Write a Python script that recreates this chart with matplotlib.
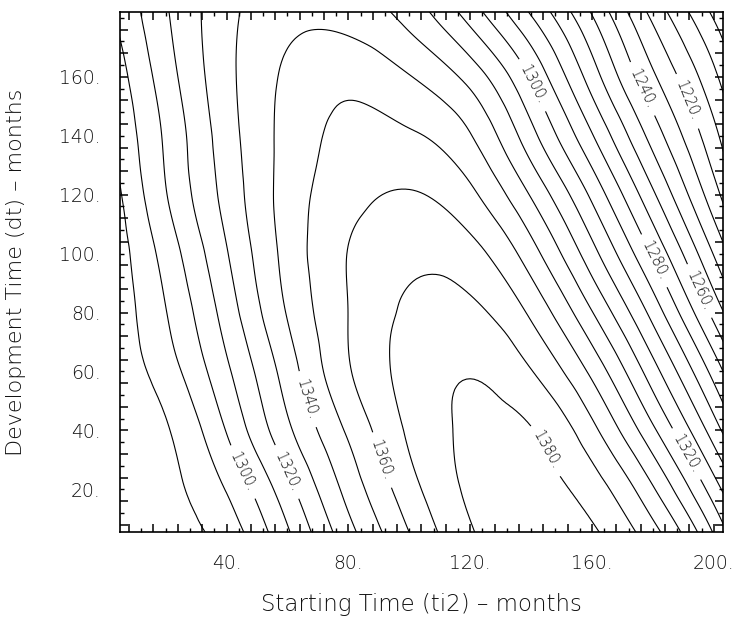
import numpy as np
import matplotlib
matplotlib.use("Agg")
import matplotlib.pyplot as plt
import matplotlib.tri as mtri
from matplotlib.ticker import MultipleLocator

# estimated surface values (rows = dt, cols = ti2)
ti2 = [0, 20, 40, 60, 80, 100, 120, 140, 160, 180, 200, 220]
dt = [0, 20, 40, 60, 80, 100, 120, 140, 160, 180, 200]
z_rows = [
    [1273.0, 1275.5, 1282.1, 1305.9, 1333.9, 1357.4, 1377.6, 1385.8, 1383.2, 1367.6, 1334.3, 1283.0],
    [1273.5, 1277.3, 1290.6, 1316.5, 1343.4, 1366.0, 1381.6, 1383.8, 1375.3, 1351.2, 1314.9, 1274.0],
    [1273.5, 1279.0, 1300.5, 1327.9, 1351.6, 1371.6, 1381.8, 1380.5, 1362.9, 1332.0, 1295.0, 1252.0],
    [1272.0, 1284.9, 1308.1, 1334.7, 1359.0, 1373.5, 1379.5, 1370.5, 1347.6, 1314.2, 1276.4, 1232.0],
    [1271.0, 1289.6, 1314.3, 1340.7, 1360.1, 1371.8, 1372.5, 1358.2, 1330.5, 1296.4, 1256.8, 1215.0],
    [1271.0, 1293.8, 1319.3, 1343.5, 1360.3, 1367.3, 1363.7, 1344.3, 1313.7, 1278.8, 1239.4, 1198.0],
    [1272.0, 1299.4, 1323.4, 1344.2, 1356.6, 1360.7, 1352.3, 1329.1, 1297.8, 1261.7, 1224.0, 1185.0],
    [1277.5, 1301.6, 1325.4, 1343.3, 1352.6, 1351.3, 1340.6, 1313.4, 1280.8, 1245.9, 1212.9, 1175.0],
    [1280.5, 1305.2, 1327.1, 1341.8, 1347.0, 1340.5, 1326.4, 1299.0, 1265.1, 1231.7, 1202.3, 1165.0],
    [1286.0, 1308.6, 1327.0, 1337.5, 1337.0, 1327.0, 1307.1, 1280.8, 1250.8, 1218.4, 1189.5, 1155.0],
    [1290.0, 1311.0, 1326.0, 1334.0, 1331.0, 1316.0, 1290.0, 1262.0, 1233.0, 1203.0, 1173.0, 1145.0],
]

levels = list(range(1190, 1390, 10))
# where each contour label sits (level, ti2, dt)
label_level = [1300, 1320, 1340, 1360, 1380, 1300, 1240, 1220, 1280, 1260, 1320]
label_x = [43.9, 60.0, 66.9, 89.8, 145.9, 140.7, 176.7, 190.2, 181.3, 194.8, 191.5]
label_y = [25.1, 26.0, 50.7, 29.5, 33.6, 157.3, 156.0, 151.2, 98.0, 87.1, 32.3]
xticks = [40, 80, 120, 160, 200]
yticks = [20, 40, 60, 80, 100, 120, 140, 160]

plt.rcParams["font.family"] = ["DejaVu Sans"]
txt = "#111111"

fig = plt.figure(figsize=(7.43, 6.18), dpi=100)
ax = fig.add_axes([0.1615, 0.139, 0.8115, 0.8416])

X, Y = np.meshgrid(ti2, dt)
z = np.array(z_rows).ravel()
tri = mtri.Triangulation(X.ravel().astype(float), Y.ravel().astype(float))
interp = mtri.CubicTriInterpolator(tri, z, kind="min_E")
tri_f, z_f = mtri.UniformTriRefiner(tri).refine_field(z, triinterpolator=interp, subdiv=4)

plain = [lv for lv in levels if lv not in label_level]
ax.tricontour(tri_f, z_f, levels=plain, colors="black", linewidths=0.8)
for lv in sorted(set(label_level)):
    cs = ax.tricontour(tri_f, z_f, levels=[lv], colors="black", linewidths=0.8)
    spots = [(x, y) for l, x, y in zip(label_level, label_x, label_y) if l == lv]
    ax.clabel(cs, manual=spots, fmt="%d.", fontsize=10.5, inline=True,
              inline_spacing=5, colors=txt)
for t in ax.texts:
    t.set_fontweight(200)

ax.set_xlim(5, 203)
ax.set_ylim(5.5, 182)

# tick marks: long every 8, short every 4, all inward on every side
ax.xaxis.set_major_locator(MultipleLocator(8))
ax.xaxis.set_minor_locator(MultipleLocator(4))
ax.yaxis.set_major_locator(MultipleLocator(8))
ax.yaxis.set_minor_locator(MultipleLocator(4))
ax.tick_params(which="both", direction="in", top=True, right=True,
               labelbottom=False, labelleft=False, color="black")
ax.tick_params(which="major", length=6, width=1.1)
ax.tick_params(which="minor", length=3, width=1.0)
for sp in ax.spines.values():
    sp.set_linewidth(1.2)

# numeric labels on their own axes so they carry no tick marks
secx = ax.secondary_xaxis("bottom")
secx.set_xticks(xticks, [f"{v}." for v in xticks])
secx.tick_params(length=0, pad=16, labelsize=13.5, labelcolor=txt)
secx.spines["bottom"].set_visible(False)
secy = ax.secondary_yaxis("left")
secy.set_yticks(yticks, [f"{v}." for v in yticks])
secy.tick_params(length=0, pad=14, labelsize=13.5, labelcolor=txt)
secy.spines["left"].set_visible(False)
for lab in secx.get_xticklabels() + secy.get_yticklabels():
    lab.set_fontweight(200)

fig.text(0.567, 0.022, "Starting Time (ti2) \u2013 months", ha="center", va="center",
         fontsize=16.5, color=txt, fontweight=200)
fig.text(0.022, 0.56, "Development Time (dt) \u2013 months", ha="center", va="center",
         rotation=90, fontsize=16, color=txt, fontweight=200)

fig.savefig("out.png", dpi=100)
